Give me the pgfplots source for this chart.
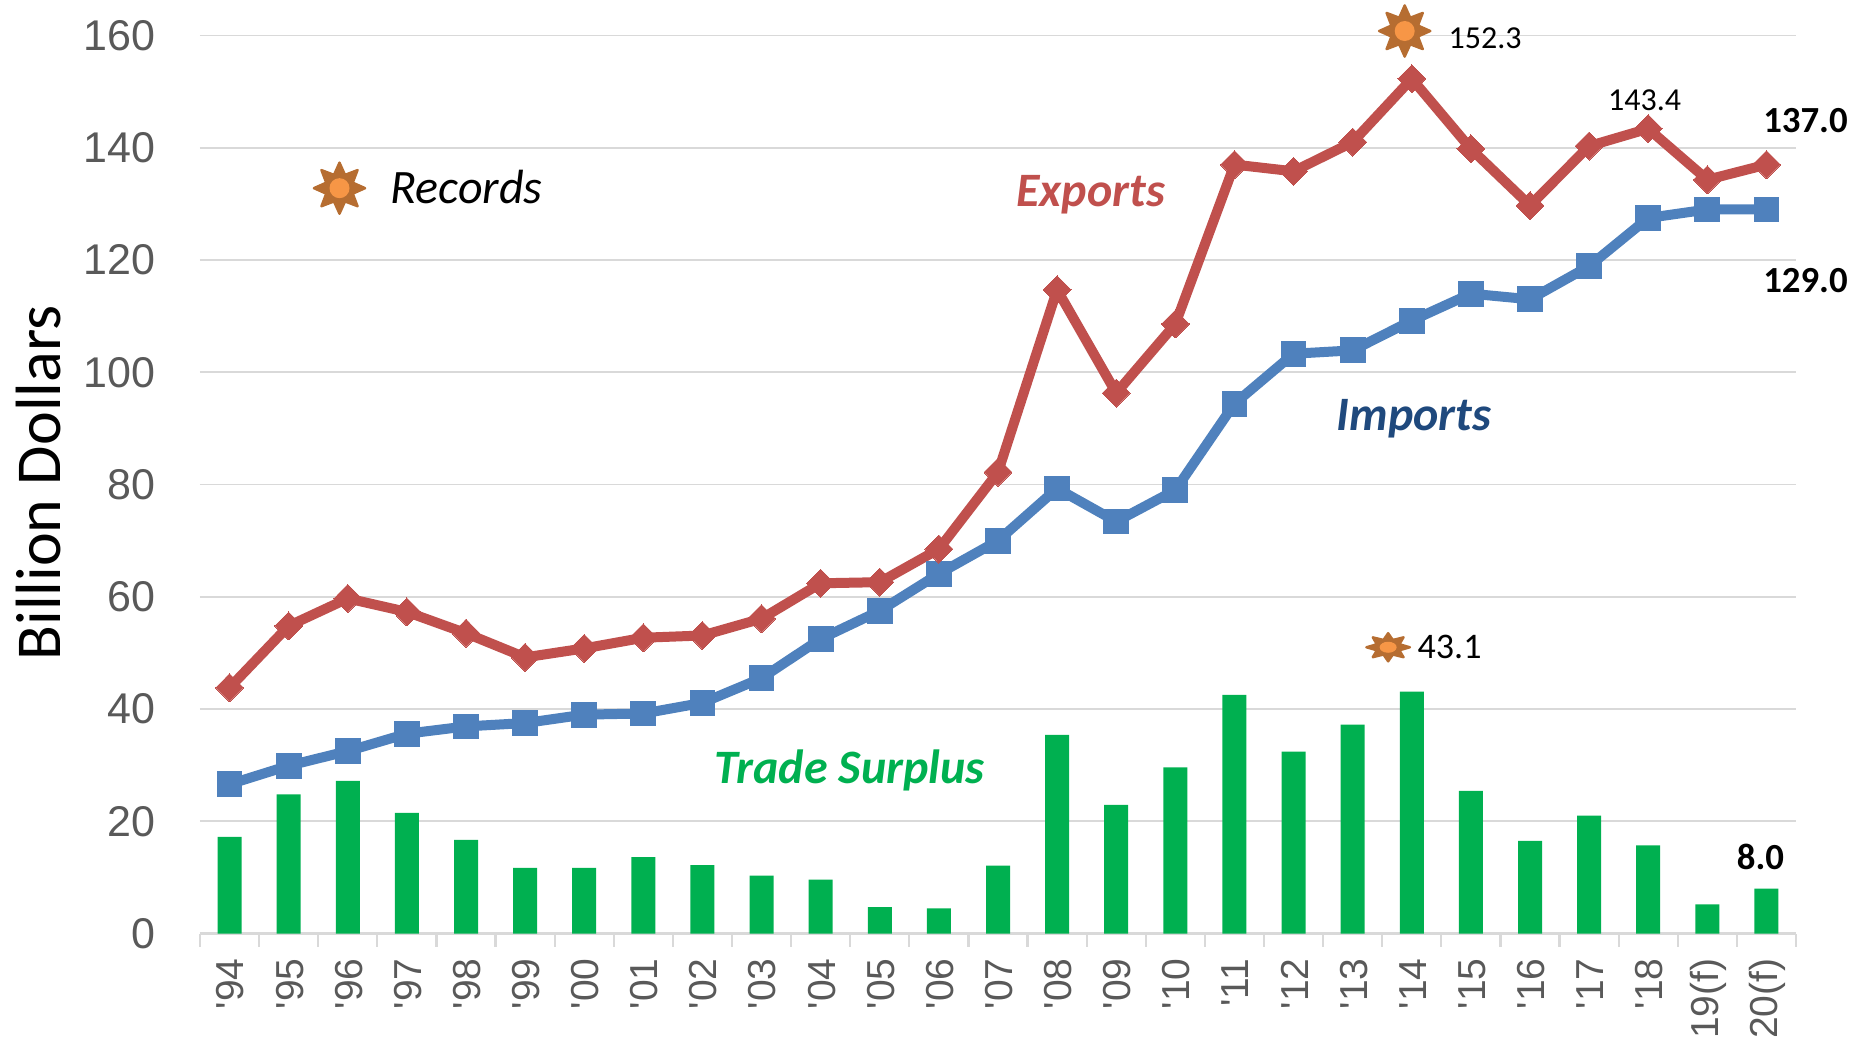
\documentclass[border=0pt]{standalone}
\usepackage{fontspec}
\setmainfont{Carlito}
\newfontfamily\ticksf{Liberation Sans}
\usepackage{pgfplots}
\pgfplotsset{compat=1.18}
\definecolor{expred}{HTML}{C0504D}
\definecolor{impblue}{HTML}{4F81BD}
\definecolor{impdark}{HTML}{1F497D}
\definecolor{surplus}{HTML}{00B050}
\definecolor{gridgray}{HTML}{D9D9D9}
\definecolor{ticktext}{HTML}{595959}
\definecolor{sunbrown}{HTML}{B66D31}
\definecolor{sunorange}{HTML}{F79646}

\pgfdeclareplotmark{sun}{%
  \pgfsetlinewidth{1.2pt}\pgfsetroundjoin
  \pgfsetfillcolor{sunbrown}\pgfsetstrokecolor{sunbrown}
  \pgfpathmoveto{\pgfpointpolar{90}{12.8pt}}
  \foreach \a/\r in {112.5/7.2,135/12.8,157.5/7.2,180/12.8,202.5/7.2,225/12.8,247.5/7.2,270/12.8,292.5/7.2,315/12.8,337.5/7.2,0/12.8,22.5/7.2,45/12.8,67.5/7.2}{
    \pgfpathlineto{\pgfpointpolar{\a}{\r pt}}
  }
  \pgfpathclose
  \pgfusepathqfillstroke
  \pgfsetfillcolor{sunorange}
  \pgfpathcircle{\pgfpointorigin}{5pt}
  \pgfusepathqfill
}

\pgfplotstableread{
x exports imports surplus
0 43.8 26.6 17.2
1 54.8 29.9 24.8
2 59.7 32.5 27.2
3 57.3 35.6 21.5
4 53.5 36.9 16.7
5 49.2 37.5 11.7
6 50.8 39.0 11.7
7 52.7 39.2 13.6
8 53.1 41.1 12.2
9 56.1 45.5 10.3
10 62.4 52.5 9.6
11 62.6 57.5 4.7
12 68.5 64.1 4.5
13 82.2 70.0 12.1
14 114.7 79.3 35.4
15 96.3 73.4 22.9
16 108.6 79.0 29.6
17 137.0 94.4 42.5
18 135.8 103.3 32.4
19 141.0 103.9 37.2
20 152.3 109.2 43.1
21 139.8 114.0 25.4
22 129.7 113.0 16.5
23 140.3 118.9 21.0
24 143.4 127.5 15.7
25 134.3 129.0 5.2
26 137.0 129.0 8.0
}\tradedata

\begin{document}
\begin{tikzpicture}
\path[use as bounding box] (-100pt,-53.75pt) rectangle (827.5pt,466.75pt);
\begin{axis}[
    name=main,
    at={(0pt,0pt)}, anchor=south west,
    scale only axis,
    width=798pt, height=449pt,
    xmin=-0.5, xmax=26.5,
    ymin=0, ymax=160,
    ytick={0,20,...,160},
    xtick={0,...,26},
    xticklabels={'94,'95,'96,'97,'98,'99,'00,'01,'02,'03,'04,'05,'06,'07,'08,'09,'10,'11,'12,'13,'14,'15,'16,'17,'18,19(f),20(f)},
    extra x ticks={-0.5,0.5,...,26.5},
    extra x tick labels={},
    extra x tick style={major tick length=6.5pt, tick style={gridgray, line width=1.1pt}, grid=none},
    major tick length=0pt,
    tick align=outside,
    axis x line*=bottom,
    axis y line*=left,
    x axis line style={gridgray, line width=1.1pt, -},
    y axis line style={draw=none, -},
    ymajorgrids,
    grid style={gridgray, line width=0.9pt},
    clip=false,
    /pgf/number format/assume math mode=true,
    xticklabel style={rotate=90, anchor=east, font=\ticksf\fontsize{19.5}{19.5}\selectfont, text=ticktext, xshift=-9pt, yshift=-0.5pt},
    yticklabel style={anchor=east, font=\ticksf\fontsize{21.5}{21.5}\selectfont, text=ticktext, xshift=-19pt},
]
\addplot[ybar, bar width=12pt, fill=surplus, draw=none] table[x=x, y=surplus] {\tradedata};
\addplot[impblue, line width=5pt, mark=square*, mark size=6.2pt, mark options={fill=impblue, draw=none, line width=0pt}] table[x=x, y=imports] {\tradedata};
\addplot[expred, line width=5pt, mark=diamond*, mark size=7pt, mark options={fill=expred, draw=none, line width=0pt, xscale=1.33}] table[x=x, y=exports] {\tradedata};

% record markers
\addplot[only marks, mark=sun] coordinates {(19.88,160.8) (1.86,132.8)};
\addplot[only marks, mark=sun, mark options={xscale=0.85, yscale=0.55}] coordinates {(19.6,51)};

\node[rotate=90, font=\fontsize{32}{32}\selectfont] at (axis cs:-3.24,80.3) {Billion Dollars};
\node[anchor=west, font=\itshape\fontsize{24}{24}\selectfont] at (axis cs:2.6,133) {Records};
\node[text=expred, font=\bfseries\itshape\fontsize{24}{24}\selectfont] at (axis cs:14.57,131.6) {Exports};
\node[text=impdark, font=\bfseries\itshape\fontsize{24}{24}\selectfont] at (axis cs:20.04,91.8) {Imports};
\node[text=surplus, font=\bfseries\itshape\fontsize{24}{24}\selectfont] at (axis cs:10.49,29) {Trade Surplus};
\node[font=\fontsize{16}{16}\selectfont] at (axis cs:21.24,159.6) {152.3};
\node[font=\fontsize{16}{16}\selectfont] at (axis cs:23.94,148.4) {143.4};
\node[font=\fontsize{18}{18}\selectfont] at (axis cs:20.64,51) {43.1};
\node[font=\bfseries\fontsize{18.4}{18}\selectfont] at (axis cs:26.66,144.8) {137.0};
\node[font=\bfseries\fontsize{18.4}{18}\selectfont] at (axis cs:26.66,116.4) {129.0};
\node[font=\bfseries\fontsize{18.4}{18}\selectfont] at (axis cs:25.9,13.7) {8.0};
\end{axis}
\end{tikzpicture}
\end{document}
